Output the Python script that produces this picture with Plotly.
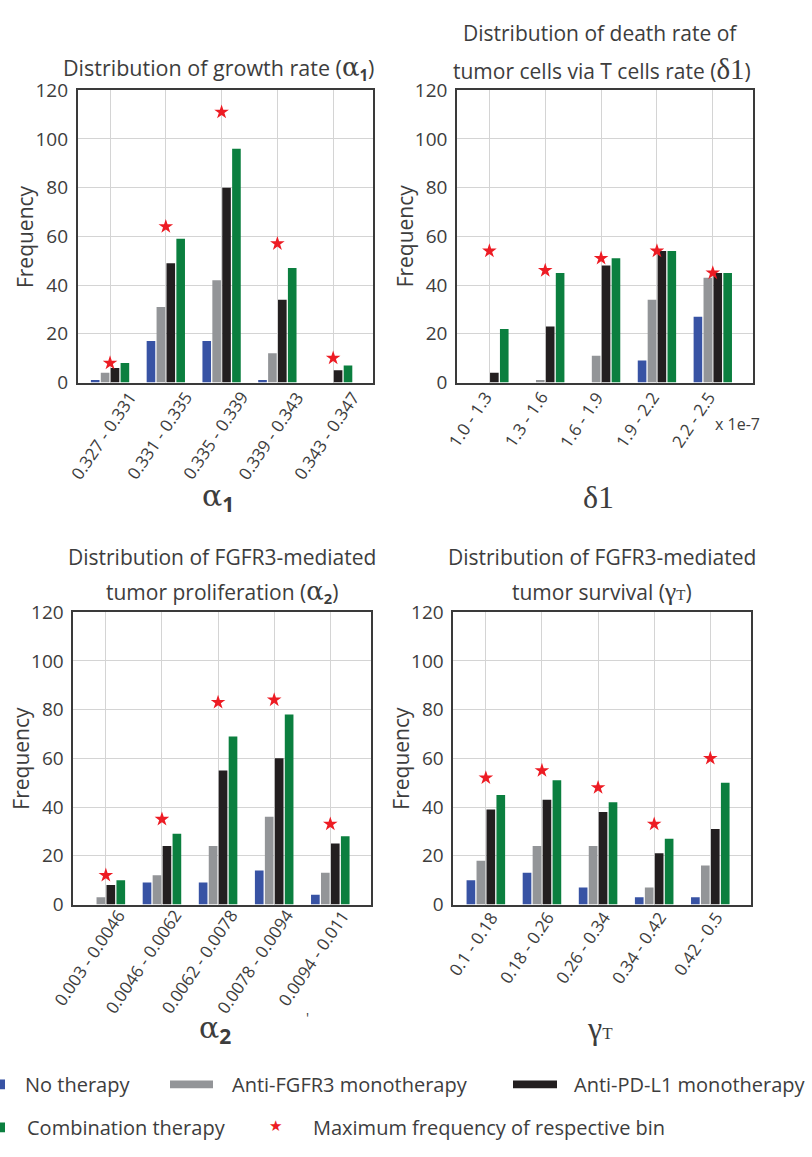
import plotly.graph_objects as go

W, H = 812, 1157

series_names = ["No therapy", "Anti-FGFR3 monotherapy", "Anti-PD-L1 monotherapy", "Combination therapy"]
series_colors = ["#3853a4", "#939598", "#231f20", "#0b7f3f"]
star_color = "#ed1c24"

alpha1_bins = ["0.327 - 0.331", "0.331 - 0.335", "0.335 - 0.339", "0.339 - 0.343", "0.343 - 0.347"]
alpha1_no = [1, 17, 17, 1, 0]
alpha1_fgfr3 = [4, 31, 42, 12, 0]
alpha1_pdl1 = [6, 49, 80, 34, 5]
alpha1_combo = [8, 59, 96, 47, 7]
alpha1_max = [8, 64, 111, 57, 10]

delta1_bins = ["1.0 - 1.3", "1.3 - 1.6", "1.6 - 1.9", "1.9 - 2.2", "2.2 - 2.5"]
delta1_no = [0, 0, 0, 9, 27]
delta1_fgfr3 = [0, 1, 11, 34, 43]
delta1_pdl1 = [4, 23, 48, 54, 45]
delta1_combo = [22, 45, 51, 54, 45]
delta1_max = [54, 46, 51, 54, 45]

alpha2_bins = ["0.003 - 0.0046", "0.0046 - 0.0062", "0.0062 - 0.0078", "0.0078 - 0.0094", "0.0094 - 0.011"]
alpha2_no = [0, 9, 9, 14, 4]
alpha2_fgfr3 = [3, 12, 24, 36, 13]
alpha2_pdl1 = [8, 24, 55, 60, 25]
alpha2_combo = [10, 29, 69, 78, 28]
alpha2_max = [12, 35, 83, 84, 33]

gammaT_bins = ["0.1 - 0.18", "0.18 - 0.26", "0.26 - 0.34", "0.34 - 0.42", "0.42 - 0.5"]
gammaT_no = [10, 13, 7, 3, 3]
gammaT_fgfr3 = [18, 24, 24, 7, 16]
gammaT_pdl1 = [39, 43, 38, 21, 31]
gammaT_combo = [45, 51, 42, 27, 50]
gammaT_max = [52, 55, 48, 33, 60]

y_ticks = [0, 20, 40, 60, 80, 100, 120]

FONT = "Open Sans, Lato, sans-serif"
SERIF = "Liberation Serif, DejaVu Serif, serif"
TXT = "#3d3d3d"


def fx(px):
    return px / W


def fy(py):
    return 1 - py / H


panels = [
    dict(bins=alpha1_bins, series=[alpha1_no, alpha1_fgfr3, alpha1_pdl1, alpha1_combo], mx=alpha1_max,
         box=(77.7, 373.3, 79, 378), lab_dx=34, lab_dy=2),
    dict(bins=delta1_bins, series=[delta1_no, delta1_fgfr3, delta1_pdl1, delta1_combo], mx=delta1_max,
         box=(457, 753, 79, 378), lab_dx=10, lab_dy=2),
    dict(bins=alpha2_bins, series=[alpha2_no, alpha2_fgfr3, alpha2_pdl1, alpha2_combo], mx=alpha2_max,
         box=(73.3, 370.7, 613, 912), lab_dx=27, lab_dy=-2),
    dict(bins=gammaT_bins, series=[gammaT_no, gammaT_fgfr3, gammaT_pdl1, gammaT_combo], mx=gammaT_max,
         box=(453.3, 750.7, 613, 912), lab_dx=20, lab_dy=0),
]

fig = go.Figure()
annotations = []
shapes = []
layout = dict(
    width=W, height=H, margin=dict(l=0, r=0, t=0, b=0),
    paper_bgcolor="white", plot_bgcolor="white",
    barmode="group", bargap=0.29, bargroupgap=0.13,
    showlegend=False, font=dict(family=FONT, color=TXT),
)

for i, p in enumerate(panels, start=1):
    xn = "x" if i == 1 else f"x{i}"
    yn = "y" if i == 1 else f"y{i}"
    xk = "xaxis" if i == 1 else f"xaxis{i}"
    yk = "yaxis" if i == 1 else f"yaxis{i}"
    x0, x1, y0, y1 = p["box"]
    layout[xk] = dict(domain=[fx(x0), fx(x1)], anchor=yn, type="category",
                      categoryorder="array", categoryarray=p["bins"],
                      range=[-0.58, 4.72], showgrid=True, gridcolor="#d4d4d4", gridwidth=1,
                      showline=True, mirror=True, linecolor="#3a3a3a", linewidth=1.6,
                      ticks="", showticklabels=False, zeroline=False, fixedrange=True)
    layout[yk] = dict(domain=[fy(y1), fy(y0)], anchor=xn, range=[0, 120],
                      tickvals=y_ticks, showgrid=True, gridcolor="#d4d4d4", gridwidth=1,
                      showline=True, mirror=True, linecolor="#3a3a3a", linewidth=1.6,
                      ticks="", zeroline=False, ticklabelstandoff=4,
                      tickfont=dict(family=FONT, size=19, color=TXT), fixedrange=True)
    for name, col, vals in zip(series_names, series_colors, p["series"]):
        fig.add_trace(go.Bar(x=p["bins"], y=vals, name=name, marker=dict(color=col, line=dict(width=0)),
                             xaxis=xn, yaxis=yn, showlegend=False))
    fig.add_trace(go.Scatter(x=p["bins"], y=p["mx"], mode="markers", name="Maximum frequency of respective bin",
                             marker=dict(symbol="star", size=11, color=star_color, line=dict(width=0)),
                             xaxis=xn, yaxis=yn, showlegend=False))
    # rotated tick labels
    for b in p["bins"]:
        annotations.append(dict(text=b, x=b, xref=xn, y=fy(y1), yref="paper", xanchor="right", yanchor="top",
                                xshift=p["lab_dx"], yshift=-p["lab_dy"], textangle=-56, showarrow=False,
                                font=dict(family=FONT, size=17, color=TXT)))
    # y axis title
    annotations.append(dict(text="Frequency", x=fx(x0 - 52), y=fy((y0 + y1) / 2), xref="paper", yref="paper",
                            textangle=-90, showarrow=False, xanchor="center", yanchor="middle",
                            font=dict(family=FONT, size=21, color=TXT)))

fig.update_layout(**layout)


def txt(text, x, y, size=21, family=FONT, xanchor="center", color=TXT):
    annotations.append(dict(text=text, x=fx(x), y=fy(y), xref="paper", yref="paper", showarrow=False,
                            xanchor=xanchor, yanchor="middle", font=dict(family=family, size=size, color=color)))


ALPHA = "<span style='font-family:DejaVu Serif;font-size:26px'>α</span>"
# titles
txt("Distribution of growth rate (" + ALPHA + "<sub><b>1</b></sub>)", 219, 57, size=21.5)
txt("Distribution of death rate of", 600, 20)
txt("tumor cells via T cells rate (<span style='font-family:Liberation Serif;font-size:29px'>δ1</span>)", 602, 57)
txt("Distribution of FGFR3-mediated", 222, 557)
txt("tumor proliferation (" + ALPHA + "<sub><b>2</b></sub>)", 222, 592)
txt("Distribution of FGFR3-mediated", 602, 557)
txt("tumor survival (<span style='font-family:Liberation Serif;font-size:26px'>γ</span>"
    "<span style='font-family:Liberation Serif;font-size:15px'>T</span>)", 602, 592)

# x axis titles
txt("<span style='font-family:DejaVu Serif'>α</span><sub><b>1</b></sub>", 218, 496, size=30)
txt("δ1", 598, 495, size=32, family=SERIF)
txt("<span style='font-family:DejaVu Serif'>α</span><sub><b>2</b></sub>", 215, 1040, size=30)
txt("<span style='font-size:32px'>γ</span><span style='font-size:17px'>T</span>", 600, 1038, size=32, family=SERIF)
txt("x 1e-7", 713, 420, size=16, xanchor="left")
txt("'", 307, 1028, size=14)

# legend
row1, row2 = 1096, 1140
LEG = 20
shapes.append(dict(type="rect", xref="paper", yref="paper", x0=fx(0), x1=fx(5), y0=fy(row1 + 5), y1=fy(row1 - 5),
                   fillcolor=series_colors[0], line=dict(width=0)))
shapes.append(dict(type="rect", xref="paper", yref="paper", x0=fx(170), x1=fx(213), y0=fy(row1 + 4), y1=fy(row1 - 4),
                   fillcolor=series_colors[1], line=dict(width=0)))
shapes.append(dict(type="rect", xref="paper", yref="paper", x0=fx(513), x1=fx(557), y0=fy(row1 + 4), y1=fy(row1 - 4),
                   fillcolor=series_colors[2], line=dict(width=0)))
shapes.append(dict(type="rect", xref="paper", yref="paper", x0=fx(0), x1=fx(5), y0=fy(row2 + 5), y1=fy(row2 - 5),
                   fillcolor=series_colors[3], line=dict(width=0)))
txt(series_names[0], 23, row1, size=LEG, xanchor="left")
txt(series_names[1], 230, row1, size=LEG, xanchor="left")
txt(series_names[2], 572, row1, size=LEG, xanchor="left")
txt(series_names[3], 25, row2, size=LEG, xanchor="left")
txt("★", 275, row2 - 1, size=15, color=star_color, family="DejaVu Sans")
txt("Maximum frequency of respective bin", 311, row2, size=LEG, xanchor="left")

fig.update_layout(annotations=annotations, shapes=shapes)
fig.write_html("out.html", config={"displayModeBar": False},
               post_script="document.body.style.margin='0';document.body.style.padding='0';")
